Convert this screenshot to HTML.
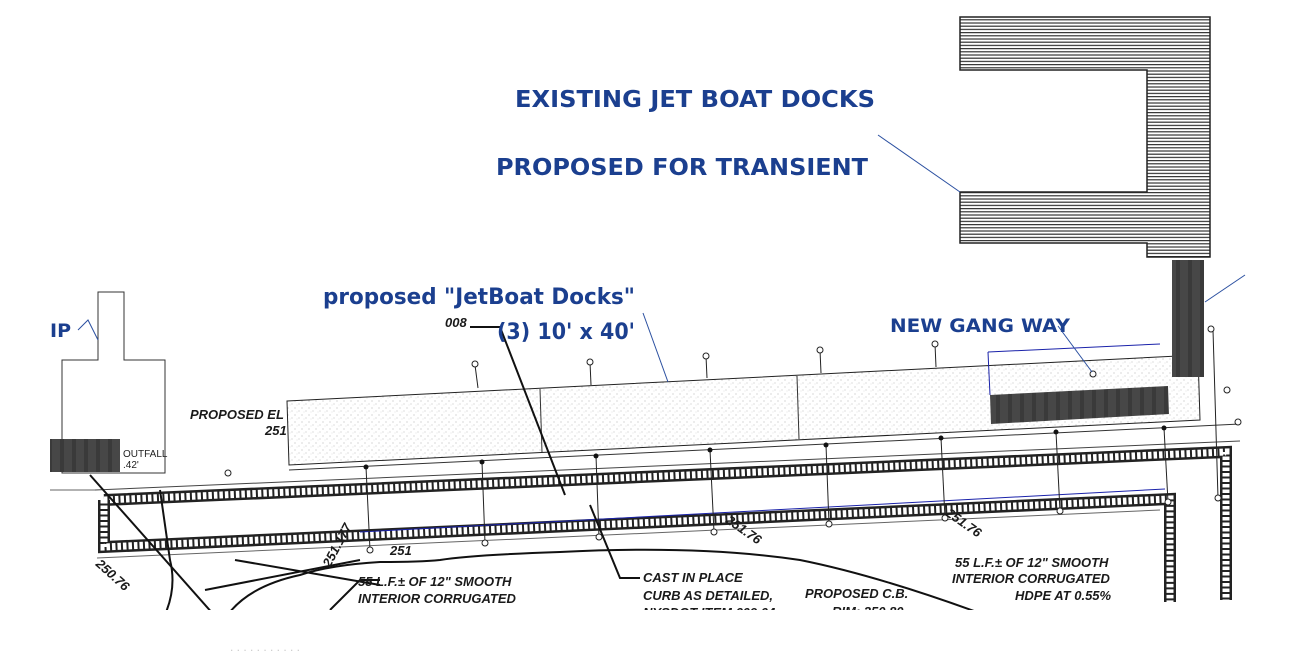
<!DOCTYPE html>
<html><head><meta charset="utf-8"><style>
html,body{margin:0;padding:0;background:#fff;width:1290px;height:651px;overflow:hidden}
svg{display:block}
.b{font-family:"DejaVu Sans","Liberation Sans",sans-serif;fill:#1b3f8f;font-weight:bold}
.k{font-family:"Liberation Sans",sans-serif;font-weight:bold;font-style:italic;fill:#1a1a1a;font-size:13px}
</style></head><body>
<svg width="1290" height="651" viewBox="0 0 1290 651" xmlns="http://www.w3.org/2000/svg">
<defs>
<pattern id="hatch" width="4" height="3.2" patternUnits="userSpaceOnUse"><rect width="4" height="3.2" fill="#fff"/><rect width="4" height="1.2" fill="#333"/></pattern>
<pattern id="stip" width="7" height="7" patternUnits="userSpaceOnUse"><rect width="7" height="7" fill="#fff"/><circle cx="1" cy="2" r=".5" fill="#999"/><circle cx="5" cy="5" r=".5" fill="#aaa"/><circle cx="3" cy="6" r=".4" fill="#bbb"/></pattern>
<pattern id="dark" width="12" height="10" patternUnits="userSpaceOnUse"><rect width="12" height="10" fill="#474747"/><rect width="4" height="10" fill="#3a3a3a"/></pattern>
<clipPath id="cl"><rect x="50" y="260" width="1195" height="350"/></clipPath>
</defs>

<path d="M960 17H1210V257H1147V243H960V192H1147V70H960Z" fill="url(#hatch)" stroke="#222" stroke-width="1.5"/>
<line x1="878" y1="135" x2="960" y2="192" stroke="#2a4fa0" stroke-width="1"/>
<text class="b" x="515" y="107" font-size="23" textLength="360" lengthAdjust="spacingAndGlyphs">EXISTING JET BOAT DOCKS</text>
<text class="b" x="496" y="175" font-size="23" textLength="372" lengthAdjust="spacingAndGlyphs">PROPOSED FOR TRANSIENT</text>

<g clip-path="url(#cl)">
<path d="M98 292H124V360H165V473H62V360H98Z" fill="#fff" stroke="#333" stroke-width="1"/>
<rect x="50" y="439" width="70" height="33" fill="url(#dark)"/>
<text x="123" y="457" font-family="Liberation Sans" font-size="10" fill="#222">OUTFALL</text>
<text x="123" y="468" font-family="Liberation Sans" font-size="10" fill="#222">.42'</text>
<line x1="50" y1="490" x2="95" y2="490" stroke="#666"/>

<g fill="none" stroke-linejoin="miter">
<polyline points="104,500 1226,452 1226,600" stroke="#222" stroke-width="12"/>
<polyline points="104,500 1226,452 1226,600" stroke="#fff" stroke-width="7" stroke-dasharray="3.5 2"/>
<polyline points="104,500 104,547 1170,499 1170,602" stroke="#222" stroke-width="12"/>
<polyline points="104,500 104,547 1170,499 1170,602" stroke="#fff" stroke-width="7" stroke-dasharray="3.5 2"/>
</g>
<line x1="95" y1="490" x2="1240" y2="441" stroke="#444"/>
<line x1="97" y1="558" x2="1160" y2="510" stroke="#666"/>
<line x1="360" y1="532" x2="1165" y2="489" stroke="#1a22aa" stroke-width="1"/>

<path d="M287 401L1198 355L1200 420L289 465Z" fill="url(#stip)" stroke="#222" stroke-width="1"/>
<line x1="540" y1="389" x2="542" y2="452" stroke="#333"/>
<line x1="797" y1="376" x2="799" y2="439" stroke="#333"/>
<path d="M990 395L1168 386L1169 414L991 424Z" fill="url(#dark)"/>
<line x1="988" y1="352" x2="1160" y2="344" stroke="#1a22aa"/>
<line x1="988" y1="352" x2="990" y2="395" stroke="#1a22aa"/>
<line x1="289" y1="470" x2="1240" y2="424" stroke="#333"/>
<rect x="1172" y="230" width="32" height="147" fill="url(#dark)"/>

<g stroke="#222" stroke-width="1" fill="#fff">
<line x1="366" y1="467" x2="370" y2="550"/><circle cx="370" cy="550" r="3"/>
<line x1="482" y1="462" x2="485" y2="543"/><circle cx="485" cy="543" r="3"/>
<line x1="596" y1="456" x2="599" y2="537"/><circle cx="599" cy="537" r="3"/>
<line x1="710" y1="450" x2="714" y2="532"/><circle cx="714" cy="532" r="3"/>
<line x1="826" y1="445" x2="829" y2="524"/><circle cx="829" cy="524" r="3"/>
<line x1="941" y1="438" x2="945" y2="518"/><circle cx="945" cy="518" r="3"/>
<line x1="1056" y1="432" x2="1060" y2="511"/><circle cx="1060" cy="511" r="3"/>
<line x1="1164" y1="428" x2="1168" y2="502"/><circle cx="1168" cy="502" r="3"/>
<line x1="1213" y1="330" x2="1218" y2="498"/><circle cx="1218" cy="498" r="3"/><circle cx="1211" cy="329" r="3"/>
<line x1="475" y1="365" x2="478" y2="388"/><circle cx="475" cy="364" r="3"/>
<line x1="590" y1="362" x2="591" y2="385"/><circle cx="590" cy="362" r="3"/>
<line x1="706" y1="356" x2="707" y2="378"/><circle cx="706" cy="356" r="3"/>
<line x1="820" y1="350" x2="821" y2="373"/><circle cx="820" cy="350" r="3"/>
<line x1="935" y1="344" x2="936" y2="367"/><circle cx="935" cy="344" r="3"/>
<circle cx="228" cy="473" r="3"/><circle cx="1093" cy="374" r="3"/><circle cx="1227" cy="390" r="3"/><circle cx="1238" cy="422" r="3"/>
</g>
<g fill="#111"><circle cx="366" cy="467" r="2.5"/><circle cx="482" cy="462" r="2.5"/><circle cx="596" cy="456" r="2.5"/><circle cx="710" cy="450" r="2.5"/><circle cx="826" cy="445" r="2.5"/><circle cx="941" cy="438" r="2.5"/><circle cx="1056" cy="432" r="2.5"/><circle cx="1164" cy="428" r="2.5"/></g>

<g fill="none" stroke="#111" stroke-width="2">
<path d="M470 327H500L565 495"/>
<path d="M90 475L245 650"/>
<path d="M205 590L360 560"/>
<path d="M235 560L380 585"/>
<path d="M215 640Q230 590 300 575Q330 565 380 562Q420 562 440 560Q470 555 560 552Q700 545 800 560Q900 580 1050 640"/>
<path d="M590 505L620 578H640"/>
<path d="M330 610L360 580H380"/>
<path d="M160 490L170 560Q180 600 150 640"/>
</g>

<text class="k" x="190" y="419">PROPOSED EL</text>
<text class="k" x="265" y="435">251</text>
<text class="k" x="445" y="327" font-size="11">008</text>
<text class="k" x="390" y="555">251</text>
<text class="k" x="358" y="586">55 L.F.± OF 12" SMOOTH</text>
<text class="k" x="358" y="603">INTERIOR CORRUGATED</text>
<text class="k" x="358" y="619">HDPE AT 0.51%</text>
<text class="k" x="643" y="582">CAST IN PLACE</text>
<text class="k" x="643" y="600">CURB AS DETAILED,</text>
<text class="k" x="643" y="617">NYSDOT ITEM 609.04</text>
<text class="k" x="805" y="598">PROPOSED C.B.</text>
<text class="k" x="832" y="616">RIM: 250.80</text>
<text class="k" x="955" y="567">55 L.F.± OF 12" SMOOTH</text>
<text class="k" x="952" y="583">INTERIOR CORRUGATED</text>
<text class="k" x="1015" y="600">HDPE AT 0.55%</text>
<text class="k" transform="translate(330,568) rotate(-62)">251.177</text>
<text class="k" transform="translate(95,565) rotate(42)">250.76</text>
<text class="k" transform="translate(725,522) rotate(35)">251.76</text>
<text class="k" transform="translate(945,515) rotate(35)">251.76</text>
</g>

<text class="b" x="50" y="337" font-size="19">IP</text>
<polyline points="78,330 88,320 98,340" fill="none" stroke="#2a4fa0"/>
<text class="b" x="323" y="304" font-size="22" font-weight="normal" textLength="312" lengthAdjust="spacingAndGlyphs">proposed "JetBoat Docks"</text>
<text class="b" x="497" y="339" font-size="22" textLength="138" lengthAdjust="spacingAndGlyphs">(3) 10' x 40'</text>
<line x1="643" y1="313" x2="668" y2="382" stroke="#2a4fa0"/>
<text class="b" x="890" y="332" font-size="19" textLength="180" lengthAdjust="spacingAndGlyphs">NEW GANG WAY</text>
<line x1="1058" y1="326" x2="1092" y2="372" stroke="#2a4fa0"/>
<line x1="1205" y1="302" x2="1245" y2="275" stroke="#2a4fa0"/>
<text x="230" y="651" font-family="Liberation Sans" font-size="12" fill="#ccc">. . . . . . . . . . .</text>
</svg>
</body></html>
